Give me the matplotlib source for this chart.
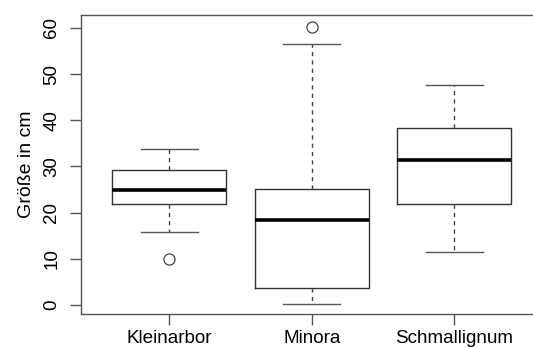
import matplotlib
matplotlib.use('Agg')
import matplotlib.pyplot as plt

plt.rcParams['font.family'] = ['Liberation Sans', 'DejaVu Sans']

groups = ['Kleinarbor', 'Minora', 'Schmallignum']
q1 = [21.9, 3.7, 21.9]
med = [24.8, 18.3, 31.3]
q3 = [29.2, 25.2, 38.4]
whislo = [15.7, 0.3, 11.5]
whishi = [33.8, 56.6, 47.6]
fliers = [[10.0], [60.2], []]
yticks = [0, 10, 20, 30, 40, 50, 60]

stats = []
for i in range(len(groups)):
    stats.append(dict(label=groups[i], q1=q1[i], med=med[i], q3=q3[i],
                      whislo=whislo[i], whishi=whishi[i], fliers=fliers[i]))

fig = plt.figure(figsize=(5.33, 3.47), dpi=100)
ax = fig.add_axes([81/533, (347-314)/347, 453/533, (314-15)/347])

edge = '#333333'
ax.bxp(stats, positions=[1, 2, 3], widths=0.8,
       boxprops=dict(color=edge, linewidth=1),
       medianprops=dict(color='black', linewidth=2.6, solid_capstyle='butt'),
       whiskerprops=dict(color='#444444', linewidth=1, linestyle=(0, (3, 3))),
       capprops=dict(color='#555555', linewidth=1),
       flierprops=dict(marker='o', markerfacecolor='none', markeredgecolor='#444444',
                       markersize=8, markeredgewidth=0.9),
       capwidths=0.4)

ax.set_xlim(0.38, 3.56)
ax.set_ylim(-1.95, 62.8)
ax.set_yticks(yticks)
ax.set_yticklabels([str(v) for v in yticks], rotation=90, va='center', fontsize=13.5)
ax.set_xticks([1, 2, 3])
ax.set_xticklabels(groups, fontsize=13.6)
ax.tick_params(axis='both', direction='out', length=8, width=1, color='#555555')
ax.tick_params(axis='x', pad=3.5)
ax.tick_params(axis='y', pad=7)
for s in ax.spines.values():
    s.set_color('#555555')
    s.set_linewidth(1)
ax.set_ylabel('Größe in cm', fontsize=14, labelpad=6)

fig.savefig('out.png', dpi=100)
